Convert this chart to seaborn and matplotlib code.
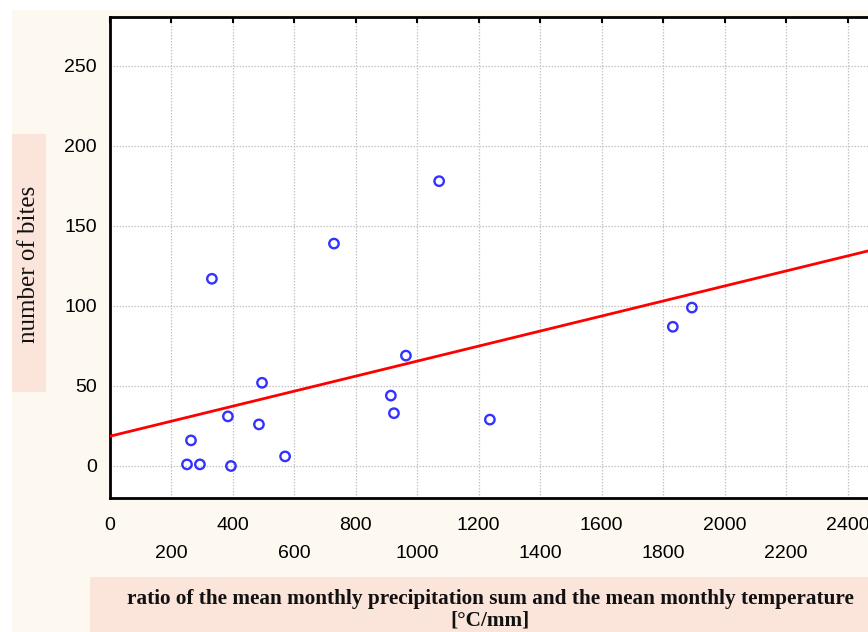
import numpy as np
import pandas as pd
import matplotlib
matplotlib.use("Agg")
import matplotlib.pyplot as plt
import seaborn as sns
from matplotlib.patches import Rectangle
from matplotlib.ticker import FixedLocator

# Data
ratio = [252, 265, 294, 333, 385, 395, 486, 496, 571, 730, 915, 925, 964, 1072, 1237, 1832, 1894]
bites = [1, 16, 1, 117, 31, 0, 26, 52, 6, 139, 44, 33, 69, 178, 29, 87, 99]
major_ticks = [0, 400, 800, 1200, 1600, 2000, 2400]
minor_ticks = [200, 600, 1000, 1400, 1800, 2200]
y_ticks = [0, 50, 100, 150, 200, 250]
x_label = "ratio of the mean monthly precipitation sum and the mean monthly temperature\n[°C/mm]"
y_label = "number of bites"

df = pd.DataFrame({"ratio": ratio, "bites": bites})

sns.set_style("white")
plt.rcParams["font.family"] = ["Liberation Sans", "DejaVu Sans"]

W, H = 868, 632
fig = plt.figure(figsize=(W / 100, H / 100), dpi=100, facecolor="white")

beige = "#fef9f0"
pink = "#fbe5da"
fig.patches.append(Rectangle((12 / W, 0), 1 - 12 / W, (H - 10) / H, transform=fig.transFigure,
                             facecolor=beige, edgecolor="none", zorder=-10))
fig.patches.append(Rectangle((12 / W, (H - 392) / H), 34 / W, 258 / H, transform=fig.transFigure,
                             facecolor=pink, edgecolor="none", zorder=-9))
fig.patches.append(Rectangle((90 / W, 0), 1 - 90 / W, (H - 577) / H, transform=fig.transFigure,
                             facecolor=pink, edgecolor="none", zorder=-9))

left, right, top, bottom = 109.5, 868, 17, 498
ax = fig.add_axes([left / W, (H - bottom) / H, (right - left) / W, (bottom - top) / H])
ax.set_facecolor("white")

xmax = (right - left) / 0.3075
ax.set_xlim(0, xmax)
ax.set_ylim(-20, 280.6)

sns.regplot(data=df, x="ratio", y="bites", ax=ax, ci=None, truncate=False,
            scatter_kws=dict(s=46, facecolors="none", edgecolors="#0000ff", linewidths=1.7, zorder=4),
            line_kws=dict(color="#ff0000", lw=2, zorder=3))

ax.set_xlabel("")
ax.set_ylabel("")

ax.set_xticks(major_ticks)
ax.set_xticklabels([str(t) for t in major_ticks])
ax.xaxis.set_minor_locator(FixedLocator(minor_ticks))
ax.set_xticklabels([str(t) for t in minor_ticks], minor=True)
ax.set_yticks(y_ticks)
ax.set_yticklabels([str(t) for t in y_ticks])

ax.tick_params(axis="x", which="major", direction="in", length=4, width=1.5, pad=13.5,
               labelsize=14, top=True, colors="black")
ax.tick_params(axis="x", which="minor", direction="in", length=4, width=1.5, pad=33.5,
               labelsize=14, top=True, colors="black")
ax.tick_params(axis="y", which="major", direction="in", length=4, width=1.5, pad=9,
               labelsize=14, colors="black")

ax.grid(True, which="both", axis="x", color="#c4c4c4", linestyle=(0, (1.2, 1.2)), lw=0.9)
ax.grid(True, which="major", axis="y", color="#c4c4c4", linestyle=(0, (1.2, 1.2)), lw=0.9)
ax.set_axisbelow(True)

for s in ["left", "bottom", "top"]:
    ax.spines[s].set_visible(True)
    ax.spines[s].set_color("black")
    ax.spines[s].set_linewidth(2)
ax.spines["right"].set_visible(False)

fig.text(29 / W, (H - 264) / H, y_label, rotation=90, ha="center", va="center",
         fontsize=18, family=["Liberation Serif", "DejaVu Serif"], color="#111111")
fig.text(490 / W, (H - 610) / H, x_label, ha="center", va="center", multialignment="center",
         fontsize=15.3, fontweight="bold", family=["Liberation Serif", "DejaVu Serif"],
         color="#111111", linespacing=1.1)

fig.savefig("out.png", dpi=100, facecolor=fig.get_facecolor())
